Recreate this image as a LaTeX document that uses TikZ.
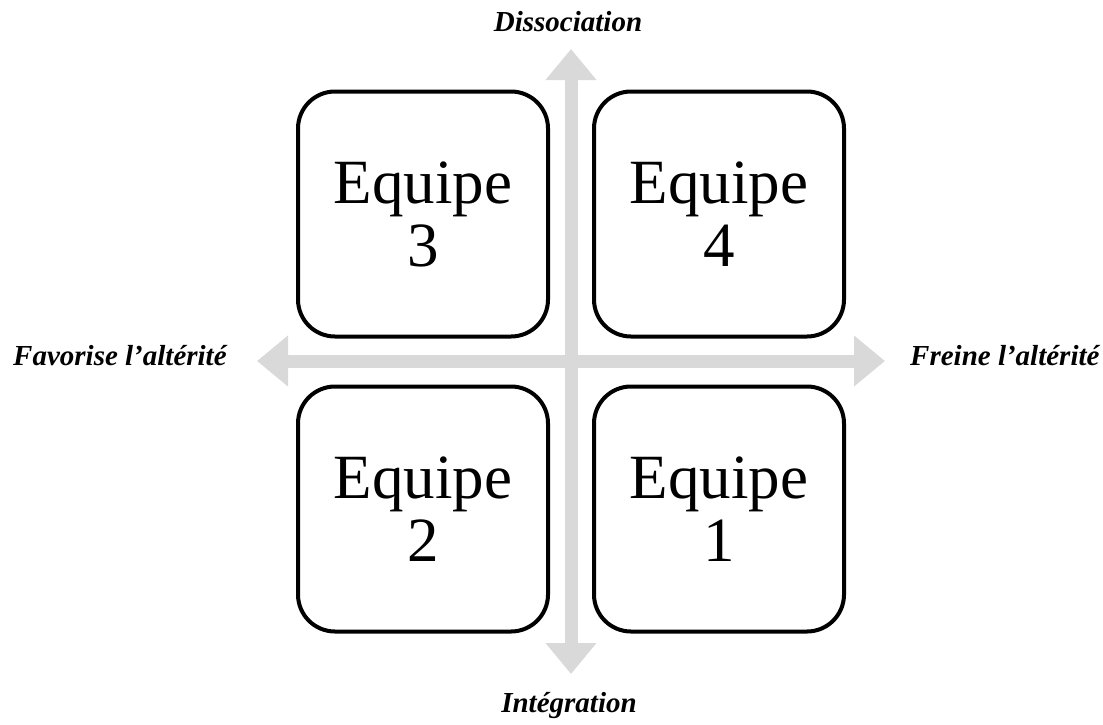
\documentclass[tikz,border=0pt]{standalone}
\usepackage{fontspec}
\setmainfont{Liberation Serif}
\usetikzlibrary{arrows.meta}

\definecolor{axisgray}{RGB}{217,217,217}

\tikzset{
  team/.style={draw=black, fill=white, line width=4pt, rounded corners=37pt,
    minimum width=250pt, minimum height=245pt, align=center, inner sep=0pt,
    font=\fontsize{63}{63}\selectfont},
  axis/.style={draw=axisgray, line width=13pt,
    {Triangle[length=31pt,width=49pt]}-{Triangle[length=31pt,width=49pt]}},
  pole/.style={inner sep=0pt, font=\fontsize{29}{29}\selectfont\bfseries\itshape}
}

\begin{document}
\begin{tikzpicture}[x=1pt, y=-1pt]
  \useasboundingbox (0,0) rectangle (1103,724);

  % axis end points
  \coordinate (north) at (571,49);
  \coordinate (south) at (571,674);
  \coordinate (west)  at (257,361);
  \coordinate (east)  at (885,361);

  % the two crossing axes
  \draw[axis] (west) -- (east);
  \draw[axis] (south) -- (north);

  % quadrants
  \node[team] (t3) at (423,214) {Equipe\\3};
  \node[team] (t4) at (719,214) {Equipe\\4};
  \node[team] (t2) at (423,509) {Equipe\\2};
  \node[team] (t1) at (719,509) {Equipe\\1};

  % axis labels
  \node[pole, anchor=base] (ldiss) at (568,31) {Dissociation};
  \node[pole, anchor=base] (linte) at (569,712) {Intégration};
  \node[pole, anchor=base west] (lfav) at (13,365) {Favorise l’altérité};
  \node[pole, anchor=base west] (lfre) at (910,365) {Freine l’altérité};
\end{tikzpicture}
\end{document}
